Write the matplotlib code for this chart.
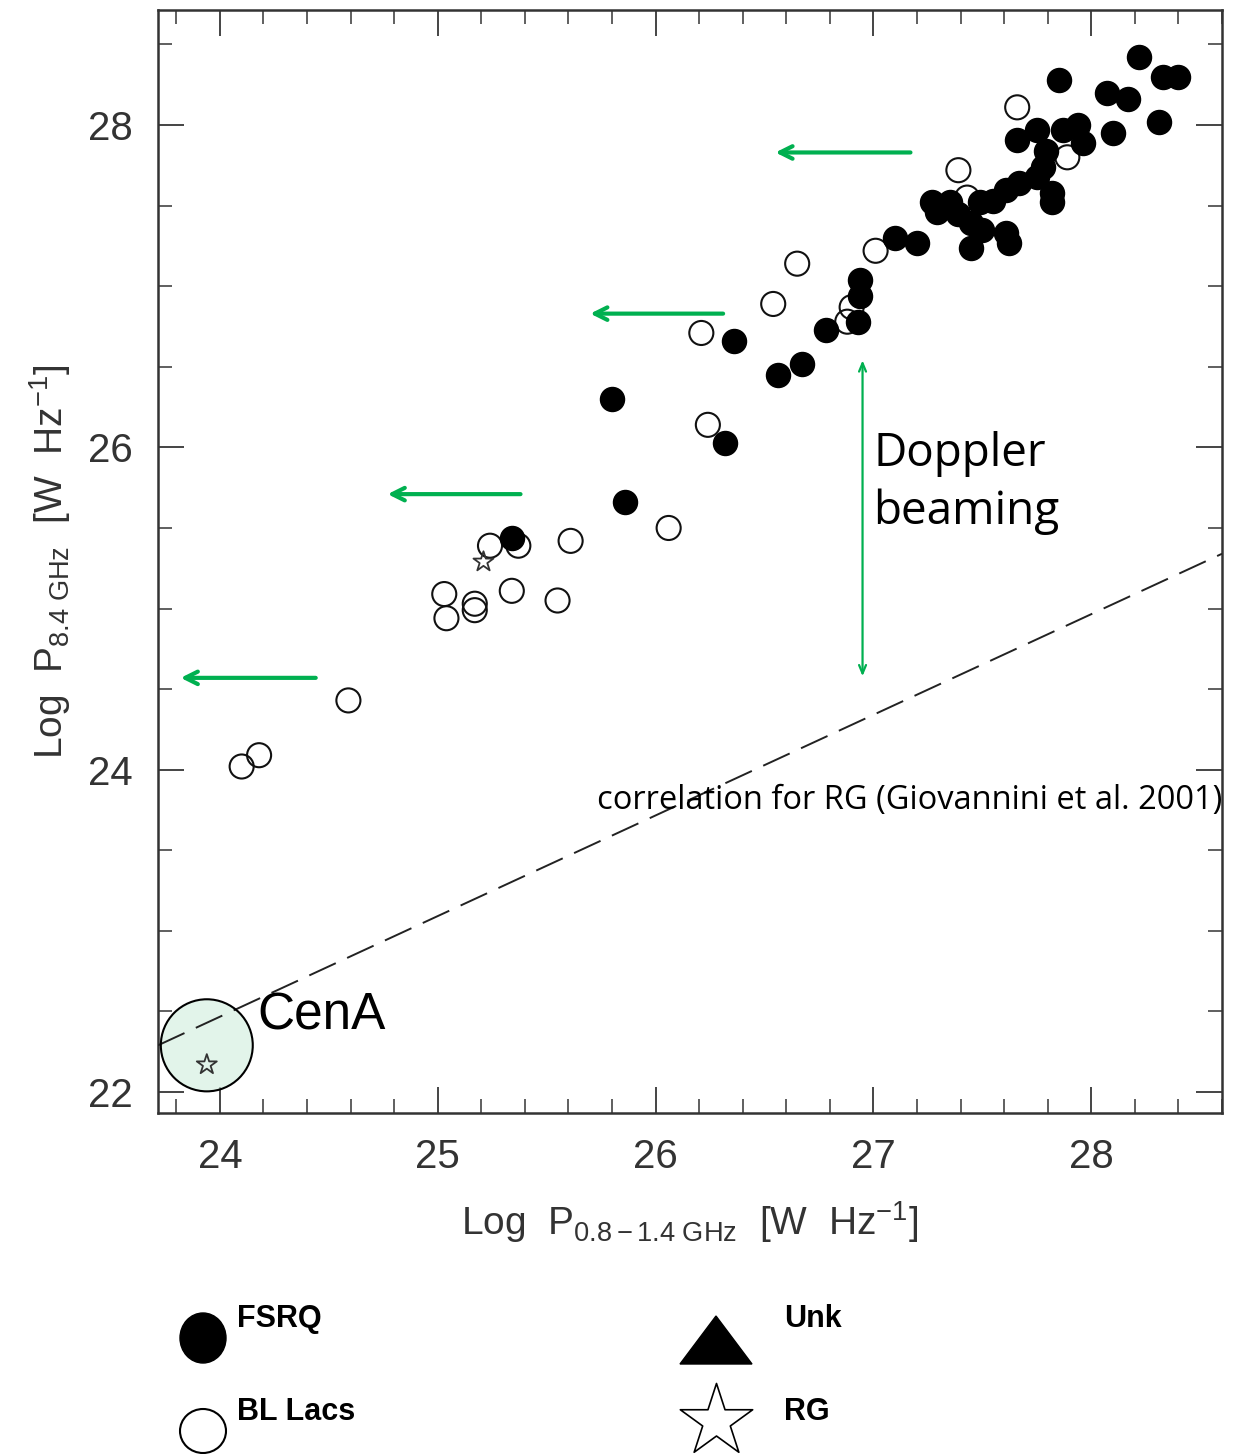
import matplotlib
matplotlib.use("Agg")
import matplotlib.pyplot as plt
from matplotlib.patches import Ellipse, Polygon
from matplotlib.ticker import MultipleLocator
import numpy as np

plt.rcParams['lines.scale_dashes'] = False
plt.rcParams['mathtext.fontset'] = 'custom'
plt.rcParams['mathtext.rm'] = 'Liberation Sans'
plt.rcParams['mathtext.it'] = 'Liberation Sans'

# ---------------- data ----------------
fsrq_x = [25.34, 25.86, 25.80, 26.32, 26.36, 26.56, 26.67, 26.78, 26.93, 26.94, 26.94, 27.10, 27.20,
          27.27, 27.35, 27.29, 27.39, 27.45, 27.50, 27.61, 27.62, 27.45, 27.49, 27.55, 27.61, 27.67,
          27.75, 27.82, 27.82, 27.78, 27.79, 27.66, 27.75, 27.87, 27.94, 27.96, 28.10, 27.85, 28.07,
          28.17, 28.31, 28.22, 28.33, 28.40]
fsrq_y = [25.44, 25.66, 26.30, 26.03, 26.66, 26.45, 26.52, 26.73, 26.78, 26.94, 27.04, 27.30, 27.27,
          27.52, 27.52, 27.46, 27.45, 27.39, 27.35, 27.33, 27.27, 27.24, 27.52, 27.53, 27.60, 27.64,
          27.68, 27.58, 27.52, 27.74, 27.84, 27.91, 27.97, 27.97, 28.00, 27.89, 27.95, 28.28, 28.20,
          28.16, 28.02, 28.42, 28.30, 28.30]

bllac_x = [24.10, 24.18, 24.59, 25.03, 25.04, 25.17, 25.17, 25.34, 25.55, 25.24, 25.37, 25.61,
           26.06, 26.24, 26.21, 26.54, 26.65, 26.88, 26.90, 27.01, 27.39, 27.43, 27.66, 27.89]
bllac_y = [24.02, 24.09, 24.43, 25.09, 24.94, 25.03, 24.99, 25.11, 25.05, 25.39, 25.39, 25.42,
           25.50, 26.14, 26.71, 26.89, 27.14, 26.78, 26.87, 27.22, 27.72, 27.55, 28.11, 27.80]

rg_x = [25.21, 23.94]
rg_y = [25.29, 22.17]

# Giovannini et al. 2001 correlation line (end points)
corr_x = [23.716, 28.60]
corr_y = [22.29, 25.34]

# green "shift" arrows: (x_start, x_end, y)
arrow_x0 = [27.17, 26.31, 25.38, 24.44]
arrow_x1 = [26.55, 25.70, 24.77, 23.82]
arrow_y = [27.83, 26.83, 25.71, 24.57]

doppler_x = 26.95
doppler_y = [26.54, 24.58]

cena_x, cena_y = 23.94, 22.29

legend_labels = ['FSRQ', 'BL Lacs', 'Unk', 'RG']

# ---------------- figure ----------------
W, H = 1248, 1454
fig = plt.figure(figsize=(W / 100, H / 100), dpi=100)
ax = fig.add_axes([158 / W, 1 - 1113 / H, (1222 - 158) / W, (1113 - 10) / H])
ax.set_xlim(23.716, 28.60)
ax.set_ylim(21.87, 28.714)

frame_col = '#333333'
for sp in ax.spines.values():
    sp.set_color(frame_col)
    sp.set_linewidth(1.8)

ax.xaxis.set_major_locator(MultipleLocator(1))
ax.xaxis.set_minor_locator(MultipleLocator(0.2))
ax.yaxis.set_major_locator(MultipleLocator(2))
ax.yaxis.set_minor_locator(MultipleLocator(0.5))
ax.tick_params(which='both', direction='in', top=True, right=True, color='#444444')
ax.tick_params(which='major', length=19, width=1.4, pad=18,
               labelsize=29, labelcolor='#333333')
ax.tick_params(which='minor', length=10, width=1.2)
for lab in ax.get_xticklabels() + ax.get_yticklabels():
    lab.set_fontfamily('Liberation Sans')

# correlation line
ax.plot(corr_x, corr_y, color='#222222', lw=1.4, dashes=(21, 9), zorder=3)

# CenA circle (light green)
circ = Ellipse((cena_x, cena_y), width=2 * 46 / 218, height=2 * 46 / 161,
               facecolor='#d3efdf', edgecolor='none', alpha=0.65, zorder=2)
ax.add_patch(circ)
circ_edge = Ellipse((cena_x, cena_y), width=2 * 46 / 218, height=2 * 46 / 161,
                    facecolor='none', edgecolor='black', lw=1.5, zorder=4)
ax.add_patch(circ_edge)

# points
ax.scatter(bllac_x, bllac_y, s=300, facecolors='none', edgecolors='#111111', linewidths=1.5, zorder=5)
ax.scatter(fsrq_x, fsrq_y, s=300, facecolors='black', edgecolors='black', linewidths=1.0, zorder=6)
ax.scatter(rg_x, rg_y, s=230, marker='*', facecolors='none', edgecolors='#333333', linewidths=1.3, zorder=7)

# green arrows
green = '#00b050'
for x0, x1, y in zip(arrow_x0, arrow_x1, arrow_y):
    ax.annotate('', xy=(x1, y), xytext=(x0, y),
                arrowprops=dict(arrowstyle='->,head_length=0.9,head_width=0.45', color=green, lw=3,
                                shrinkA=0, shrinkB=0), zorder=8)
ax.annotate('', xy=(doppler_x, doppler_y[0]), xytext=(doppler_x, doppler_y[1]),
            arrowprops=dict(arrowstyle='<->,head_length=0.6,head_width=0.25', color=green, lw=1.6,
                            shrinkA=0, shrinkB=0), zorder=8)

ax.text(27.0, 25.78, 'Doppler\nbeaming', fontsize=33, family='Open Sans', ha='left', va='center',
        linespacing=1.32, zorder=9)
ax.text(28.60, 23.81, 'correlation for RG (Giovannini et al. 2001)', fontsize=23.5, family='Open Sans',
        ha='right', va='center', zorder=9)
ax.text(24.17, 22.47, 'CenA', fontsize=37, family='Liberation Sans', ha='left', va='center', zorder=9)

# axis labels
fig.text(690 / W, 1 - 1222 / H,
         r'Log  P$_{\mathregular{0.8-1.4\ GHz}}$  [W  Hz$^{\mathregular{-1}}$]',
         fontsize=28, family='Liberation Sans', color='#333333', ha='center', va='center')
fig.text(50 / W, 1 - 562 / H,
         r'Log  P$_{\mathregular{8.4\ GHz}}$  [W  Hz$^{\mathregular{-1}}$]',
         fontsize=28, family='Liberation Sans', color='#333333', ha='center', va='center', rotation=90)

# legend (overlay axes in pixel coordinates)
lax = fig.add_axes([0, 0, 1, 1], facecolor='none')
lax.set_xlim(0, W)
lax.set_ylim(H, 0)
lax.axis('off')
lax.add_patch(Ellipse((203, 1338), 46, 50, facecolor='black', edgecolor='black'))
lax.add_patch(Ellipse((203, 1431), 46, 44, facecolor='none', edgecolor='black', lw=1.5))
lax.add_patch(Polygon([(680, 1364), (752, 1364), (716, 1316)], closed=True,
                      facecolor='black', edgecolor='black'))
lax.scatter([716], [1421], s=3000, marker='*', facecolors='white', edgecolors='black', linewidths=1.2)
for lbl, (x, y) in zip(legend_labels, [(237, 1319), (237, 1412), (784, 1319), (784, 1412)]):
    lax.text(x, y, lbl, fontsize=22, fontweight='bold', family='Liberation Sans',
             ha='left', va='center')

fig.savefig('out.png', dpi=100)
